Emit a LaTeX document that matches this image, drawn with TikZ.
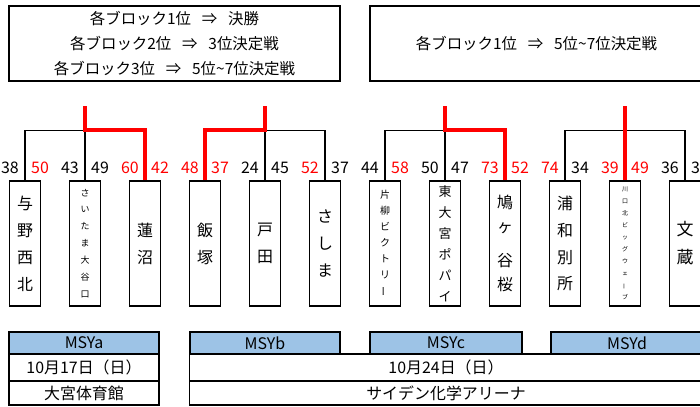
\documentclass[tikz,border=0pt]{standalone}
\usepackage{fontspec}
\setmainfont{Noto Sans CJK JP}
\usetikzlibrary{positioning}
\definecolor{hdrblue}{HTML}{9DC3E6}
\newcommand{\goesto}{\hspace{0.7em}⇒\hspace{0.7em}}
\newcommand{\vbar}{\rotatebox[origin=c]{90}{ー}}
\tikzset{
  node distance=60bp,
  team/.style={draw, line width=1.2bp, minimum width=31bp, minimum height=125bp,
    inner sep=0pt, align=center, font=\fontsize{16}{27}\selectfont},
  score/.style={inner sep=0pt, font=\fontsize{16}{16}\selectfont},
  win score/.style={score, text=red},
  tie/.style={line width=1.2bp},
  win/.style={line width=4bp, red, line join=miter},
  rulebox/.style={draw, line width=1.5bp, minimum height=75bp, align=center,
    font=\fontsize{15.5}{25.5}\selectfont},
  hdr/.style={draw, line width=1.2bp, fill=hdrblue, minimum width=150bp,
    minimum height=22bp, inner sep=0pt, outer sep=0pt, font=\fontsize{16}{16}\selectfont},
  cell/.style={draw, line width=1.2bp, minimum width=150bp, inner sep=0pt,
    outer sep=0pt, font=\fontsize{16}{16}\selectfont}
}
\begin{document}
\begin{tikzpicture}[x=1bp, y=-1bp]
    \useasboundingbox (0,0) rectangle (700,406);
    % rules
    \node[rulebox, minimum width=331bp] (rule1) at (174.5,43.5)
      {各ブロック1位\goesto 決勝\\各ブロック2位\goesto 3位決定戦\\各ブロック3位\goesto 5位\textasciitilde 7位決定戦};
    \node[rulebox, minimum width=333bp] (rule2) at (536.5,43.5)
      {各ブロック1位\goesto 5位\textasciitilde 7位決定戦};
    % teams
    \node[team] (t0) at (25,243.5) {与\\野\\西\\北};
    \node[team, right of=t0, font=\fontsize{9}{17}\selectfont] (t1) {さ\\い\\た\\ま\\大\\谷\\口};
    \node[team, right of=t1] (t2) {蓮\\沼};
    \node[team, right of=t2] (t3) {飯\\塚};
    \node[team, right of=t3] (t4) {戸\\田};
    \node[team, right of=t4] (t5) {さ\\し\\ま};
    \node[team, right of=t5, font=\fontsize{10}{16}\selectfont] (t6) {片\\柳\\ビ\\ク\\ト\\リ\\\vbar};
    \node[team, right of=t6, font=\fontsize{13}{21}\selectfont] (t7) {東\\大\\宮\\ポ\\パ\\イ};
    \node[team, right of=t7, font=\fontsize{16}{24}\selectfont] (t8) {鳩\\ヶ\\[10bp]谷\\桜};
    \node[team, right of=t8] (t9) {浦\\和\\別\\所};
    \node[team, right of=t9, font=\fontsize{6}{12}\selectfont] (t10) {川\\口\\北\\ビ\\ッ\\グ\\ウ\\ェ\\\vbar\\ブ};
    \node[team, right of=t10, font=\fontsize{17}{28}\selectfont] (t11) {文\\蔵};
    % scores
    \node[score, above left=7bp and 6bp of t0.north] {38};
    \node[win score, above right=7bp and 6bp of t0.north] {50};
    \node[score, above left=7bp and 6bp of t1.north] {43};
    \node[score, above right=7bp and 6bp of t1.north] {49};
    \node[win score, above left=7bp and 6bp of t2.north] {60};
    \node[win score, above right=7bp and 6bp of t2.north] {42};
    \node[win score, above left=7bp and 6bp of t3.north] {48};
    \node[win score, above right=7bp and 6bp of t3.north] {37};
    \node[score, above left=7bp and 6bp of t4.north] {24};
    \node[score, above right=7bp and 6bp of t4.north] {45};
    \node[win score, above left=7bp and 6bp of t5.north] {52};
    \node[score, above right=7bp and 6bp of t5.north] {37};
    \node[score, above left=7bp and 6bp of t6.north] {44};
    \node[win score, above right=7bp and 6bp of t6.north] {58};
    \node[score, above left=7bp and 6bp of t7.north] {50};
    \node[score, above right=7bp and 6bp of t7.north] {47};
    \node[win score, above left=7bp and 6bp of t8.north] {73};
    \node[win score, above right=7bp and 6bp of t8.north] {52};
    \node[win score, above left=7bp and 6bp of t9.north] {74};
    \node[score, above right=7bp and 6bp of t9.north] {34};
    \node[win score, above left=7bp and 6bp of t10.north] {39};
    \node[win score, above right=7bp and 6bp of t10.north] {49};
    \node[score, above left=7bp and 6bp of t11.north] {36};
    \node[score, above right=7bp and 6bp of t11.north] {35};
    % brackets
    \coordinate[above=50bp of t1.north] (m1);
    \coordinate[above=74bp of t1.north] (g1);
    \coordinate[above=50bp of t4.north] (m2);
    \coordinate[above=74bp of t4.north] (g2);
    \coordinate[above=50bp of t7.north] (m3);
    \coordinate[above=74bp of t7.north] (g3);
    \coordinate[above=50bp of t10.north] (m4);
    \coordinate[above=74bp of t10.north] (g4);
    \draw[tie] (t0.north) |- (m1) -- (t1.north);
    \draw[win] (g1) -- (m1) -| (t2.north);
    \draw[tie] (t5.north) |- (m2) -- (t4.north);
    \draw[win] (g2) -- (m2) -| (t3.north);
    \draw[tie] (t6.north) |- (m3) -- (t7.north);
    \draw[win] (g3) -- (m3) -| (t8.north);
    \draw[tie] (t9.north) |- (m4) -| (t11.north);
    \draw[win] (g4) -- (t10.north);
    % schedule
    \node[hdr] (msya) at (84,343) {MSYa};
    \node[cell, minimum height=27bp, below=0pt of msya] (day1) {10月17日（日）};
    \node[cell, minimum height=24bp, below=0pt of day1] (hall1) {大宮体育館};
    \node[hdr] (msyb) at (265,343) {MSYb};
    \node[hdr, minimum width=152bp] (msyc) at (446,343) {MSYc};
    \node[hdr, minimum width=152bp] (msyd) at (627,343) {MSYd};
    \node[cell, minimum width=513bp, minimum height=27bp, below=0pt of msyc] (day2) {10月24日（日）};
    \node[cell, minimum width=513bp, minimum height=24bp, below=0pt of day2] (hall2) {サイデン化学アリーナ};
\end{tikzpicture}
\end{document}
